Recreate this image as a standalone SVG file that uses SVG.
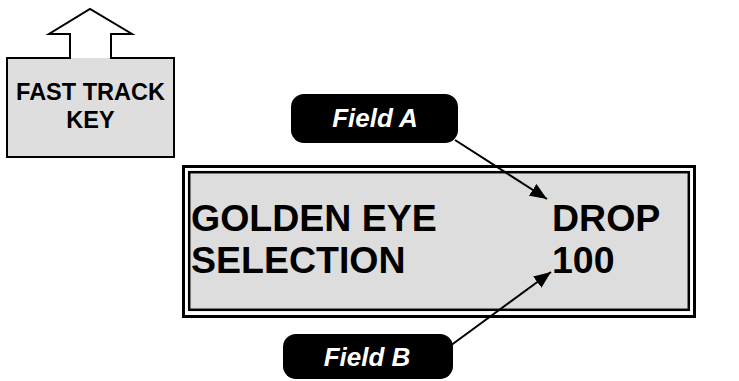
<svg xmlns="http://www.w3.org/2000/svg" width="739" height="381" viewBox="0 0 739 381">
<defs>
<style>
.t{font-family:"Liberation Sans",Arial,sans-serif;font-weight:bold;fill:#000}
.lbl{font-family:"Liberation Sans",Arial,sans-serif;font-weight:bold;font-style:italic;fill:#fff;font-size:26px;text-anchor:middle}
.conn{stroke:#000;stroke-width:2;fill:none}
</style>
<marker id="ah" viewBox="0 0 10 10" refX="10" refY="5" markerWidth="17" markerHeight="14" markerUnits="userSpaceOnUse" orient="auto" preserveAspectRatio="none">
<path d="M0,0 L10,5 L0,10 Z" fill="#000"/>
</marker>
</defs>
<rect width="739" height="381" fill="#fff"/>
<g id="fast-track-key">
<rect x="7" y="58" width="167" height="99" fill="#dedede"/>
<path d="M70,58 L7,58 L7,157 L174,157 L174,58 L111,58 L111,34 L132,34 L90,9 L49,34 L70,34 Z" fill="none" stroke="#000" stroke-width="2"/>
<text class="t" x="90.5" y="100" font-size="23.5" text-anchor="middle">FAST TRACK</text>
<text class="t" x="90.5" y="128" font-size="23.5" text-anchor="middle">KEY</text>
</g>
<g id="display">
<rect x="183.5" y="166.5" width="511" height="150" fill="#fff" stroke="#000" stroke-width="3"/>
<rect x="189.2" y="172.2" width="499.6" height="137.6" fill="#dddddd" stroke="#000" stroke-width="2.5"/>
<text class="t" x="191" y="231" font-size="37.5">GOLDEN EYE</text>
<text class="t" x="191" y="273" font-size="37.5">SELECTION</text>
<text class="t" x="552" y="231" font-size="37.5">DROP</text>
<text class="t" x="552" y="273" font-size="37.5">100</text>
</g>
<g id="field-a">
<rect x="291" y="94" width="167" height="49" rx="13" fill="#000"/>
<text class="lbl" x="375" y="127">Field A</text>
</g>
<g id="field-b">
<rect x="283" y="334" width="170" height="45" rx="13" fill="#000"/>
<text class="lbl" x="367" y="366">Field B</text>
</g>
<g id="connectors">
<line class="conn" x1="455" y1="140" x2="547" y2="199" marker-end="url(#ah)"/>
<line class="conn" x1="450" y1="346" x2="551" y2="272" marker-end="url(#ah)"/>
</g>
</svg>
